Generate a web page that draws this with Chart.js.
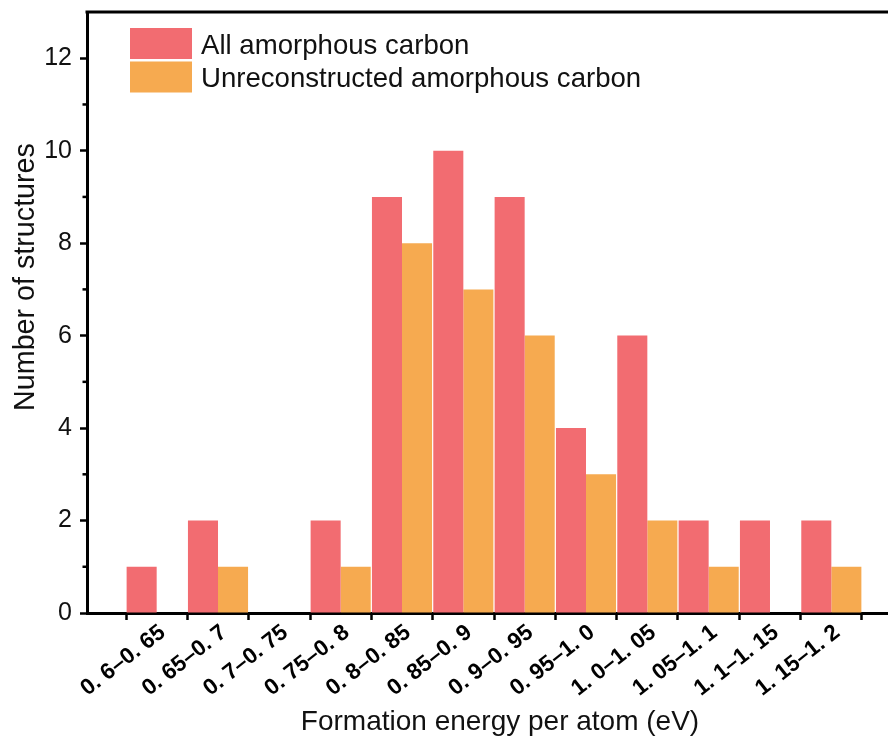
<!DOCTYPE html>
<html>
<head>
<meta charset="utf-8">
<script src="https://cdn.jsdelivr.net/npm/chart.js@4/dist/chart.umd.min.js"></script>
<style>
  html, body { margin: 0; padding: 0; background: #fff; overflow: hidden; }
  #wrap { width: 888px; height: 744px; overflow: hidden; position: relative; }
  canvas { display: block; }
</style>
</head>
<body>
<div id="wrap"><canvas id="c" width="914" height="744"></canvas></div>
<script>
// Formation-energy bins (eV per atom)
const binLabels = ['0. 6–0. 65', '0. 65–0. 7', '0. 7–0. 75', '0. 75–0. 8', '0. 8–0. 85', '0. 85–0. 9',
                   '0. 9–0. 95', '0. 95–1. 0', '1. 0–1. 05', '1. 05–1. 1', '1. 1–1. 15', '1. 15–1. 2'];
// Number of structures per bin
const allCounts     = [1, 2, 0, 2, 9, 10, 9, 4, 6, 2, 2, 2];
const unreconCounts = [0, 1, 0, 1, 8, 7, 6, 3, 2, 1, 0, 1];
const seriesNames   = ['All amorphous carbon', 'Unreconstructed amorphous carbon'];
const seriesColors  = ['#F26C71', '#F6AA50'];
// Y axis ticks
const yMajorTicks = [0, 2, 4, 6, 8, 10, 12];
const yMinorTicks = [1, 3, 5, 7, 9, 11];
const yTitle = 'Number of structures';
const xTitle = 'Formation energy per atom (eV)';

Chart.defaults.font.family = "'Liberation Sans', Arial, Helvetica, sans-serif";
Chart.defaults.color = '#000';

const toPoints = arr => arr.map((v, i) => ({ x: i, y: v }));

const framePlugin = {
  id: 'frameAndLegend',
  afterDraw(chart) {
    const { ctx, chartArea } = chart;
    const { left, right, top, bottom } = chartArea;
    const ys = chart.scales.y;
    ctx.save();
    // top and right frame lines
    ctx.strokeStyle = '#000';
    ctx.lineWidth = 3;
    ctx.beginPath();
    ctx.moveTo(left - 1.5, top);
    ctx.lineTo(right, top);
    ctx.lineTo(right, bottom);
    ctx.stroke();
    // minor ticks on the y axis
    ctx.lineWidth = 2.5;
    yMinorTicks.forEach(v => {
      const py = ys.getPixelForValue(v);
      ctx.beginPath();
      ctx.moveTo(left - 4.5, py);
      ctx.lineTo(left, py);
      ctx.stroke();
    });
    // axis titles
    ctx.fillStyle = '#111';
    ctx.textAlign = 'center';
    ctx.textBaseline = 'alphabetic';
    ctx.font = "28px 'Liberation Sans', Arial, sans-serif";
    ctx.fillText(xTitle, 500, 730);
    ctx.save();
    ctx.translate(34, 277);
    ctx.rotate(-Math.PI / 2);
    ctx.font = "28.7px 'Liberation Sans', Arial, sans-serif";
    ctx.fillText(yTitle, 0, 0);
    ctx.restore();
    // legend, stacked in the upper left of the plot
    ctx.font = "27.6px 'Liberation Sans', Arial, sans-serif";
    ctx.textBaseline = 'middle';
    ctx.textAlign = 'left';
    chart.data.datasets.forEach((ds, i) => {
      const bx = left + 43, by = top + 16 + i * 33.5;
      ctx.fillStyle = ds.backgroundColor;
      ctx.fillRect(bx, by, 62, 31);
      ctx.fillStyle = '#111';
      ctx.fillText(ds.label, bx + 71, by + 18);
    });
    ctx.restore();
  }
};

new Chart(document.getElementById('c'), {
  type: 'bar',
  data: {
    datasets: [
      { label: seriesNames[0], data: toPoints(allCounts), backgroundColor: seriesColors[0], borderWidth: 0 },
      { label: seriesNames[1], data: toPoints(unreconCounts), backgroundColor: seriesColors[1], borderWidth: 0 }
    ]
  },
  options: {
    responsive: false,
    animation: false,
    barPercentage: 1,
    categoryPercentage: 0.98,
    layout: { padding: { top: 12, right: 13, left: 0, bottom: 0 } },
    plugins: { legend: { display: false }, tooltip: { enabled: false } },
    scales: {
      x: {
        type: 'linear',
        offset: false,
        min: -1.136,
        max: binLabels.length - 1 + 1.136,
        afterBuildTicks: s => { s.ticks = binLabels.map((_, i) => ({ value: i })); },
        afterFit: s => { s.height = 131; s.paddingLeft = 0; s.paddingRight = 0; },
        ticks: {
          autoSkip: false,
          maxRotation: 38,
          minRotation: 38,
          padding: 1,
          labelOffset: 6,
          font: { size: 22.5, weight: 'bold', lineHeight: 1 },
          color: '#000',
          callback: v => binLabels[v]
        },
        grid: { offset: true, drawOnChartArea: false, drawTicks: true, tickLength: 7, tickWidth: 2.5, tickColor: '#000' },
        border: { display: true, width: 3, color: '#000' },
        title: { display: false }
      },
      y: {
        min: 0,
        max: 13,
        afterBuildTicks: s => { s.ticks = yMajorTicks.map(v => ({ value: v })); },
        afterFit: s => { s.width = 87; s.paddingTop = 0; s.paddingBottom = 0; },
        ticks: { padding: 8, font: { size: 25 }, color: '#111' },
        grid: { drawOnChartArea: false, drawTicks: true, tickLength: 7, tickWidth: 2.5, tickColor: '#000' },
        border: { display: true, width: 3, color: '#000' },
        title: { display: false }
      }
    }
  },
  plugins: [framePlugin]
});
</script>
</body>
</html>
